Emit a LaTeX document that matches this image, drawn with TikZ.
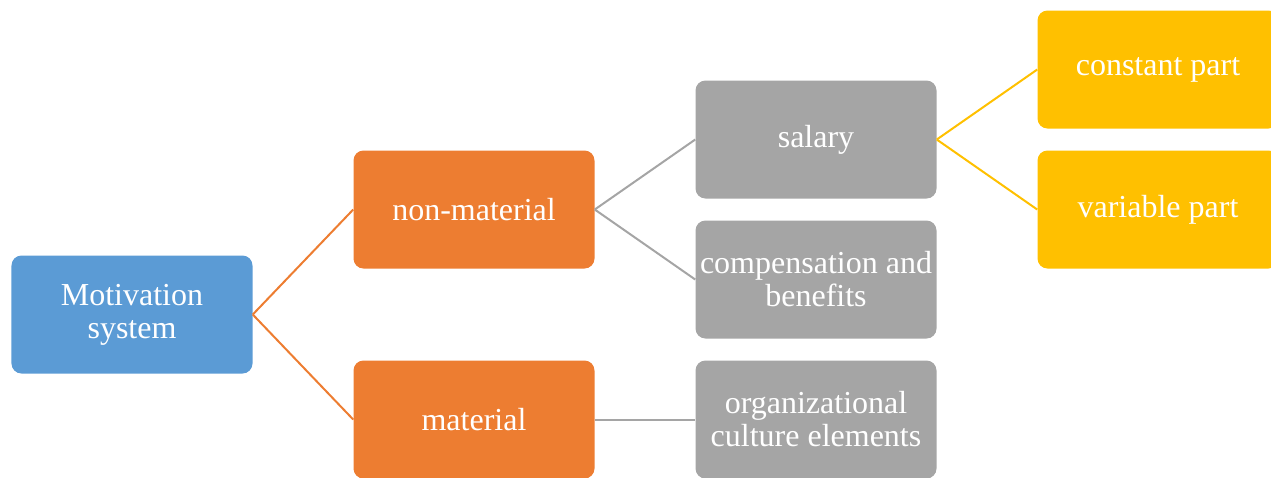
\documentclass[tikz,border=0pt]{standalone}
\usepackage{fontspec}
\setmainfont{Liberation Serif}
\usepackage{tikz}
\usetikzlibrary{positioning}
\definecolor{mblue}{HTML}{5B9BD5}
\definecolor{morange}{HTML}{ED7D31}
\definecolor{mgray}{HTML}{A5A5A5}
\definecolor{myellow}{HTML}{FFC000}
\begin{document}
\begin{tikzpicture}[node distance=256.5pt,on grid,
		box/.style={rectangle,rounded corners=7.5pt,draw=none,text=white,align=center,
			minimum width=180.75pt,minimum height=88.5pt,inner sep=1pt,
			font=\fontsize{24}{24.75}\selectfont},
		link/.style={draw,line width=1.5pt}]
		\useasboundingbox (-99pt,-121.9pt) rectangle (854.25pt,235.9pt);
		\node[box,fill=mblue]   (root)                                  {Motivation\\system};
		\node[box,fill=morange] (nonmat) [above right=78.75pt and 256.5pt of root]   {non-material};
		\node[box,fill=morange] (mat)    [below right=78.75pt and 256.5pt of root]   {material};
		\node[box,fill=mgray]   (salary) [above right=52.5pt and 256.5pt of nonmat]  {salary};
		\node[box,fill=mgray]   (comp)   [below right=52.5pt and 256.5pt of nonmat]  {compensation and\\benefits};
		\node[box,fill=mgray]   (org)    [right=of mat]                              {organizational\\culture elements};
		\node[box,fill=myellow] (const)  [above right=52.5pt and 256.5pt of salary]  {constant part};
		\node[box,fill=myellow] (var)    [below right=52.5pt and 256.5pt of salary]  {variable part};
		
		\path[link,morange]
		(root.east) edge (nonmat.west)
		(root.east) edge (mat.west);
		\path[link,mgray]
		(nonmat.east) edge (salary.west)
		(nonmat.east) edge (comp.west)
		(mat.east) edge (org.west);
		\path[link,myellow]
		(salary.east) edge (const.west)
		(salary.east) edge (var.west);
\end{tikzpicture}
\end{document}
